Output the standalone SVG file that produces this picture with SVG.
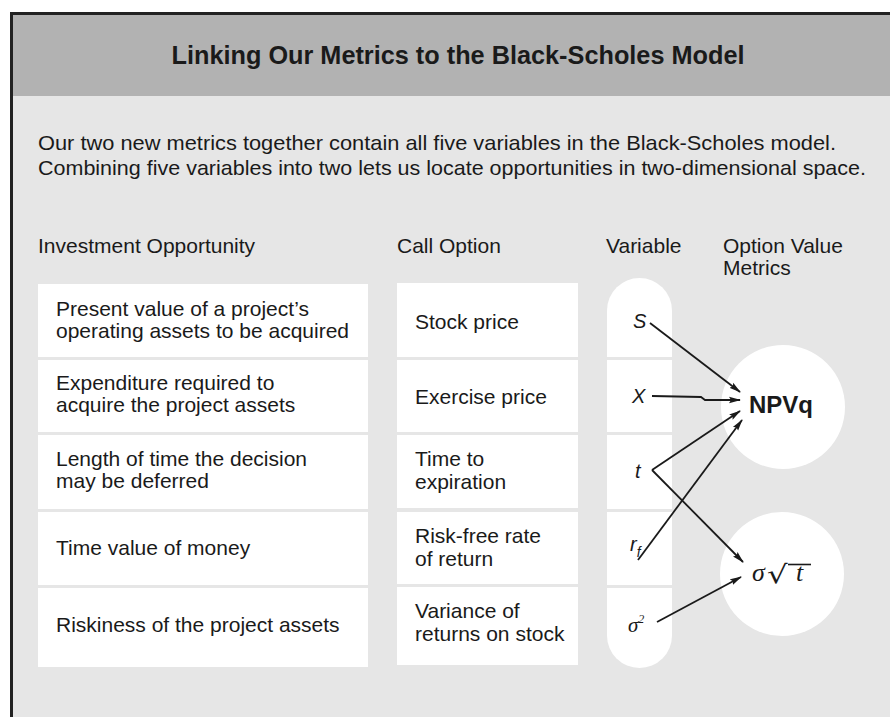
<svg xmlns="http://www.w3.org/2000/svg" width="890" height="717" viewBox="0 0 890 717">
  <defs>
    <style>
      .txt { font-family: "Liberation Sans", Arial, sans-serif; font-size: 21px; fill: #1a1a1a; }
      .title { font-family: "Liberation Sans", Arial, sans-serif; font-size: 25px; font-weight: bold; fill: #1a1a1a; }
      .var { font-family: "Liberation Sans", Arial, sans-serif; font-size: 20px; font-style: italic; fill: #1a1a1a; }
      .math { font-family: "Liberation Serif", "Times New Roman", serif; font-style: italic; font-size: 26px; fill: #1a1a1a; }
      .box { fill: #ffffff; }
      .edge { fill: none; stroke: #1a1a1a; stroke-width: 1.8; marker-end: url(#arrow); }
      .divider { stroke: #e6e6e6; stroke-width: 3; }
    </style>
    <marker id="arrow" viewBox="0 0 12 8" refX="11" refY="4" markerWidth="12" markerHeight="8" markerUnits="userSpaceOnUse" orient="auto">
      <path d="M0,0.8 L12,4 L0,7.2 L2,4 Z" fill="#1a1a1a"/>
    </marker>
  </defs>

  <!-- page and frame -->
  <rect x="0" y="0" width="890" height="717" fill="#ffffff"/>
  <rect x="11" y="13" width="879" height="704" fill="#e6e6e6"/>
  <rect x="13" y="15" width="877" height="81" fill="#b2b2b2"/>
  <line x1="10" y1="13.5" x2="890" y2="13.5" stroke="#222222" stroke-width="3"/>
  <line x1="11.5" y1="12" x2="11.5" y2="717" stroke="#222222" stroke-width="3"/>

  <text class="title" x="458" y="64" text-anchor="middle" textLength="573" lengthAdjust="spacingAndGlyphs">Linking Our Metrics to the Black-Scholes Model</text>

  <text class="txt" x="38" y="150" textLength="798" lengthAdjust="spacingAndGlyphs">Our two new metrics together contain all five variables in the Black-Scholes model.</text>
  <text class="txt" x="38" y="175" textLength="828" lengthAdjust="spacingAndGlyphs">Combining five variables into two lets us locate opportunities in two-dimensional space.</text>

  <!-- column headings -->
  <text class="txt" x="38" y="253">Investment Opportunity</text>
  <text class="txt" x="397" y="253">Call Option</text>
  <text class="txt" x="606" y="253">Variable</text>
  <text class="txt" x="723" y="253">Option Value</text>
  <text class="txt" x="723" y="275">Metrics</text>

  <!-- investment opportunity column -->
  <g id="inv-pv">
    <rect class="box" x="38" y="284" width="330" height="73"/>
    <text class="txt" x="56" y="316">Present value of a project’s</text>
    <text class="txt" x="56" y="338">operating assets to be acquired</text>
  </g>
  <g id="inv-expenditure">
    <rect class="box" x="38" y="360" width="330" height="72"/>
    <text class="txt" x="56" y="390">Expenditure required to</text>
    <text class="txt" x="56" y="412">acquire the project assets</text>
  </g>
  <g id="inv-length">
    <rect class="box" x="38" y="435" width="330" height="74"/>
    <text class="txt" x="56" y="466">Length of time the decision</text>
    <text class="txt" x="56" y="488">may be deferred</text>
  </g>
  <g id="inv-time-value">
    <rect class="box" x="38" y="512" width="330" height="73"/>
    <text class="txt" x="56" y="555">Time value of money</text>
  </g>
  <g id="inv-risk">
    <rect class="box" x="38" y="588" width="330" height="79"/>
    <text class="txt" x="56" y="632">Riskiness of the project assets</text>
  </g>

  <!-- call option column -->
  <g id="call-stock">
    <rect class="box" x="397" y="283" width="181" height="74"/>
    <text class="txt" x="415" y="329">Stock price</text>
  </g>
  <g id="call-exercise">
    <rect class="box" x="397" y="360" width="181" height="72"/>
    <text class="txt" x="415" y="404">Exercise price</text>
  </g>
  <g id="call-time">
    <rect class="box" x="397" y="435" width="181" height="73"/>
    <text class="txt" x="415" y="466">Time to</text>
    <text class="txt" x="415" y="489">expiration</text>
  </g>
  <g id="call-riskfree">
    <rect class="box" x="397" y="512" width="181" height="72"/>
    <text class="txt" x="415" y="543">Risk-free rate</text>
    <text class="txt" x="415" y="566">of return</text>
  </g>
  <g id="call-variance">
    <rect class="box" x="397" y="587" width="181" height="78"/>
    <text class="txt" x="415" y="618">Variance of</text>
    <text class="txt" x="415" y="641">returns on stock</text>
  </g>

  <!-- variable column -->
  <g id="variables">
    <rect class="box" x="607" y="278" width="65" height="390" rx="32.5" ry="32.5"/>
    <line class="divider" x1="607" y1="358.5" x2="672" y2="358.5"/>
    <line class="divider" x1="607" y1="433.5" x2="672" y2="433.5"/>
    <line class="divider" x1="607" y1="510.5" x2="672" y2="510.5"/>
    <line class="divider" x1="607" y1="586.5" x2="672" y2="586.5"/>
  </g>
  <g id="var-s"><text class="var" x="633" y="328">S</text></g>
  <g id="var-x"><text class="var" x="632" y="403">X</text></g>
  <g id="var-t"><text class="var" x="635" y="478">t</text></g>
  <g id="var-rf"><text class="var" x="630" y="551">r<tspan font-size="14" dy="6">f</tspan></text></g>
  <g id="var-sigma2">
    <text x="628" y="632" font-family="'Liberation Serif', 'Times New Roman', serif" font-style="italic" font-size="21" fill="#1a1a1a">σ<tspan font-size="12" dy="-9">2</tspan></text>
  </g>

  <!-- option value metrics -->
  <g id="metric-npvq">
    <circle cx="783" cy="407" r="62" fill="#ffffff"/>
    <text x="749" y="413" font-family="'Liberation Sans', Arial, sans-serif" font-size="24" font-weight="bold" fill="#1a1a1a">NPVq</text>
  </g>
  <g id="metric-sigma-root-t">
    <circle cx="782" cy="574" r="62" fill="#ffffff"/>
    <text class="math" x="752" y="581">σ</text>
    <text transform="translate(767,583) scale(1.35,1.05)" font-family="'DejaVu Sans', sans-serif" font-size="24" fill="#1a1a1a">√</text>
    <line x1="788" y1="564.5" x2="811" y2="564.5" stroke="#1a1a1a" stroke-width="1.6"/>
    <text class="math" x="796" y="581">t</text>
  </g>

  <!-- connectors -->
  <g id="connectors">
    <path class="edge" d="M650,323 L740,392"/>
    <path class="edge" d="M652,396 L701,397 L705,400 L740,400"/>
    <path class="edge" d="M652,470 L740,411"/>
    <path class="edge" d="M638,560 L742,420"/>
    <path class="edge" d="M652,470 L743,562"/>
    <path class="edge" d="M657,622 L741,577"/>
  </g>
</svg>
